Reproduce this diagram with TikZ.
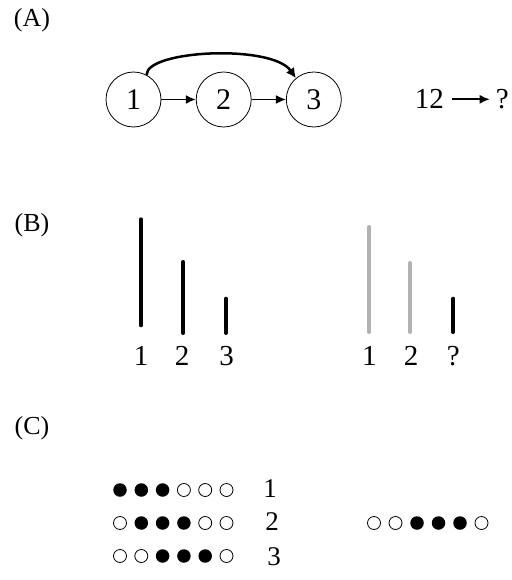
\documentclass[tikz,border=0pt]{standalone}
\usepackage{fontspec}
\setmainfont{Liberation Serif}
\usetikzlibrary{arrows.meta}
\begin{document}
\begin{tikzpicture}[x=1pt,y=-1pt,
  lab/.style={font=\fontsize{26}{26}\selectfont, inner sep=0pt},
  num/.style={font=\fontsize{29}{29}\selectfont, inner sep=0pt},
  rowlab/.style={font=\fontsize{27}{27}\selectfont, inner sep=0pt},
  circ/.style={circle, draw, line width=0.8pt, minimum size=55pt, inner sep=0pt, font=\fontsize{30}{30}\selectfont},
  arr/.style={line width=1.6pt, -{Latex[length=10pt,width=9pt]}},
  bigarr/.style={line width=2.5pt, -{Latex[length=10pt,width=10pt]}},
  blackbar/.style={line width=4pt, line cap=round},
  graybar/.style={blackbar, draw=black!30},
  fdot/.style={circle, fill, minimum size=13.5pt, inner sep=0pt},
  odot/.style={circle, draw, line width=0.8pt, minimum size=13pt, inner sep=0pt}]
\useasboundingbox (0,0) rectangle (511,580);
% (A)
\node[lab] (la) at (32,20) {(A)};
\node[circ] (c1) at (133.5,99.5) {1};
\node[circ] (c2) at (223.7,99.5) {2};
\node[circ] (c3) at (313.8,99.5) {3};
\draw[arr] (c1) -- (c2);
\draw[arr] (c2) -- (c3);
\draw[bigarr] (c1.62) .. controls (146,50) and (272,44) .. (c3.130);
\node[num] (t12) at (429.3,99.3) {12};
\node[num] (tq) at (502.3,99.3) {?};
\coordinate (a0) at ([xshift=8pt]t12.east);
\draw[arr] (a0) -- ([xshift=-6pt]tq.west);
% (B)
\node[lab] (lb) at (32,225) {(B)};
\coordinate (b1t) at (141,219.3); \coordinate (b1b) at (141,325.3);
\coordinate (b2t) at (183.3,262); \coordinate (b2b) at (183.3,333);
\coordinate (b3t) at (226,298.7); \coordinate (b3b) at (226,333);
\draw[blackbar] (b1t) -- (b1b);
\draw[blackbar] (b2t) -- (b2b);
\draw[blackbar] (b3t) -- (b3b);
\node[num] (n1) at (141,356) {1};
\node[num] (n2) at (182,356) {2};
\node[num] (n3) at (226.7,356) {3};
\coordinate (g1t) at (369.3,227); \coordinate (g1b) at (369.3,332);
\coordinate (g2t) at (410,263); \coordinate (g2b) at (410,332);
\coordinate (g3t) at (453.3,298.7); \coordinate (g3b) at (453.3,332);
\draw[graybar] (g1t) -- (g1b);
\draw[graybar] (g2t) -- (g2b);
\draw[blackbar] (g3t) -- (g3b);
\node[num] (m1) at (369.3,356) {1};
\node[num] (m2) at (411,356) {2};
\node[num] (m3) at (453.3,356) {?};
% (C)
\node[lab] (lc) at (32,428) {(C)};
\foreach \s [count=\i] in {fdot,fdot,fdot,odot,odot,odot}
  \node[\s] (ra\i) at ({120+21.3*(\i-1)},490) {};
\foreach \s [count=\i] in {odot,fdot,fdot,fdot,odot,odot}
  \node[\s] (rb\i) at ({120+21.3*(\i-1)},523) {};
\foreach \s [count=\i] in {odot,odot,fdot,fdot,fdot,odot}
  \node[\s] (rc\i) at ({120+21.3*(\i-1)},556) {};
\foreach \s [count=\i] in {odot,odot,fdot,fdot,fdot,odot}
  \node[\s] (rd\i) at ({374+21.5*(\i-1)},523) {};
\node[rowlab] (k1) at (270,488.5) {1};
\node[rowlab] (k2) at (272,521.5) {2};
\node[rowlab] (k3) at (274,557) {3};
\end{tikzpicture}
\end{document}
